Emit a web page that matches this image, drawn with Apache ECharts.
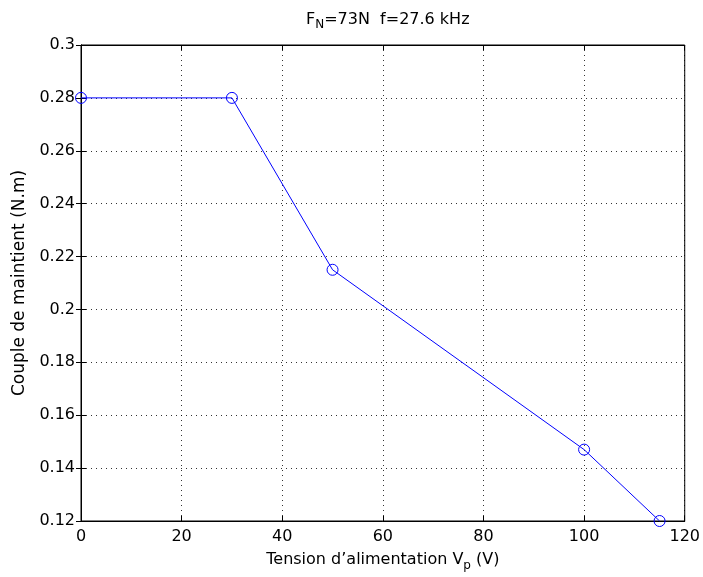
<!DOCTYPE html>
<html><head><meta charset="utf-8">
<script src="https://cdn.jsdelivr.net/npm/echarts@6/dist/echarts.min.js"></script>
<style>html,body{margin:0;padding:0;background:#fff}#c{width:703px;height:577px}</style>
</head><body><div id="c"></div>
<script>
var xValues = [0, 30, 50, 100, 115];
var yValues = [0.28, 0.28, 0.215, 0.147, 0.12];
var xTicks = [0, 20, 40, 60, 80, 100, 120];
var yTicks = [0.12, 0.14, 0.16, 0.18, 0.2, 0.22, 0.24, 0.26, 0.28, 0.3];

var font = 'DejaVu Sans, sans-serif';
var chart = echarts.init(document.getElementById('c'));
var pts = xValues.map(function(x, i){ return [x, yValues[i]]; });
function fmtY(v){ return String(+v.toFixed(2)); }
var gridLine = {show:true, lineStyle:{color:'#000', type:[1,4], width:1, opacity:0.8}};
chart.setOption({
  animation:false,
  title:{
    text:'{a|F}{s|N}{a|=73N  f=27.6 kHz}', left:301, top:4,
    textStyle:{rich:{a:{fontFamily:font,fontSize:16,fontWeight:'normal',color:'#000'},s:{fontFamily:font,fontSize:12,fontWeight:'normal',color:'#000',padding:[10,0,0,0]}}}
  },
  grid:{left:81, right:16, top:45, bottom:54, show:true, borderColor:'#000', borderWidth:1},
  xAxis:[{
    type:'value', min:0, max:120, interval:20,
    axisLine:{show:true, lineStyle:{color:'#000'}},
    axisTick:{show:true, inside:true, length:5, lineStyle:{color:'#000'}},
    axisLabel:{color:'#000', fontFamily:font, fontSize:16, margin:8},
    splitLine:gridLine,
    name:'{a|Tension d\u2019alimentation V}{s|p}{a| (V)}', nameLocation:'middle', nameGap:27,
    nameTextStyle:{rich:{a:{fontFamily:font,fontSize:16,color:'#000'},s:{fontFamily:font,fontSize:12,color:'#000',padding:[12,0,0,0]}}}
  },{
    type:'value', position:'top', min:0, max:120, interval:20,
    axisLine:{show:true, lineStyle:{color:'#000'}},
    axisTick:{show:true, inside:true, length:5, lineStyle:{color:'#000'}},
    axisLabel:{show:false}, splitLine:{show:false}
  }],
  yAxis:[{
    type:'value', min:0.12, max:0.3, interval:0.02,
    axisLine:{show:true, lineStyle:{color:'#000'}},
    axisTick:{show:true, inside:true, length:5, lineStyle:{color:'#000'}},
    axisLabel:{color:'#000', fontFamily:font, fontSize:16, margin:6, formatter:fmtY},
    splitLine:gridLine,
    name:'Couple de maintient (N.m)', nameLocation:'middle', nameGap:51,
    nameTextStyle:{fontFamily:font, fontSize:17, color:'#000'}
  },{
    type:'value', position:'right', min:0.12, max:0.3, interval:0.02,
    axisLine:{show:true, lineStyle:{color:'#000'}},
    axisTick:{show:true, inside:true, length:5, lineStyle:{color:'#000'}},
    axisLabel:{show:false}, splitLine:{show:false}
  }],
  series:[{
    type:'line', data:pts, xAxisIndex:0, yAxisIndex:0,
    symbol:'circle', symbolSize:11, showAllSymbol:true,
    lineStyle:{color:'#0000ff', width:1},
    itemStyle:{color:'rgba(0,0,0,0)', borderColor:'#0000ff', borderWidth:1},
    clip:false
  }]
});
</script></body></html>
